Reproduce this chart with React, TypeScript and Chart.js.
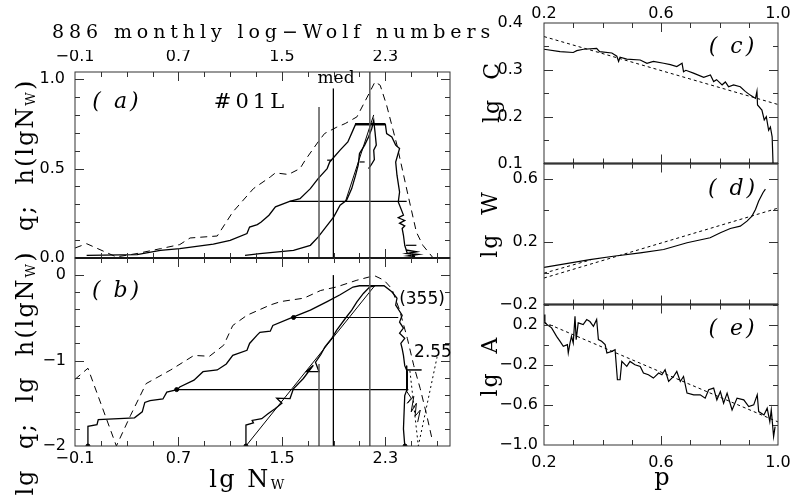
import React, { useEffect, useRef } from 'react';
import { Chart, registerables } from 'chart.js';
Chart.register(...registerables);

const CW = 790, CH = 503;
const SERIF = '"DejaVu Serif", serif';
const SANS = '"DejaVu Sans", sans-serif';

// ---------- tick labels ----------
const leftXTicks = [-0.1, 0.7, 1.5, 2.3];
const rightXTicks = [0.2, 0.6, 1.0];
const aYTicks = [0.0, 0.5, 1.0];
const bYTicks = [-2, -1, 0];
const cYTicks = [0.1, 0.2, 0.3, 0.4];
const dYTicks = [-0.2, 0.2, 0.6];
const eYTicks = [-1.0, -0.6, -0.2, 0.2];

// ---------- vertical marker lines (left panels) ----------
const splitX = [1.787, 1.898, 2.18];
const splitTopA = [0.845, 0.948, 1.04];
const splitTopB = [-1.04, 0.0, 0.2];

// ---------- panel (a) ----------
const aDashX = [-0.1, -0.01, 0.22, 0.38, 0.56, 0.71, 0.79, 1.0, 1.12, 1.28, 1.41, 1.45, 1.55, 1.64, 1.68, 1.78, 1.83, 1.92, 1.99, 2.08, 2.16, 2.22, 2.26, 2.31, 2.39, 2.47, 2.54, 2.59, 2.67];
const aDashY = [0.056, 0.08, 0.006, 0.025, 0.052, 0.075, 0.112, 0.123, 0.257, 0.388, 0.453, 0.476, 0.467, 0.5, 0.547, 0.649, 0.696, 0.73, 0.752, 0.789, 0.9, 0.985, 0.966, 0.854, 0.631, 0.369, 0.145, 0.071, 0.0];
const aOutX = [-0.01, 0.38, 0.56, 0.71, 0.97, 1.1, 1.23, 1.25, 1.31, 1.34, 1.4, 1.45, 1.56, 1.64, 1.72, 1.78, 1.85, 1.87, 1.95, 2.01, 2.05, 2.07, 2.3, 2.31, 2.35, 2.38, 2.41, 2.38, 2.39, 2.41, 2.4, 2.44, 2.4, 2.45, 2.41, 2.45, 2.43, 2.44, 2.45, 2.47];
const aOutY = [0.015, 0.019, 0.043, 0.052, 0.077, 0.099, 0.137, 0.173, 0.187, 0.201, 0.239, 0.286, 0.317, 0.332, 0.388, 0.444, 0.5, 0.537, 0.603, 0.649, 0.715, 0.748, 0.748, 0.696, 0.677, 0.631, 0.612, 0.537, 0.463, 0.369, 0.313, 0.24, 0.225, 0.21, 0.195, 0.18, 0.165, 0.127, 0.071, 0.025];
const aInX = [1.215, 1.33, 1.59, 1.72, 1.78, 1.85, 1.9, 1.95, 2.0, 2.04, 2.07, 2.09, 2.1, 2.14, 2.17, 2.195, 2.21, 2.22, 2.23, 2.21, 2.215, 2.19, 2.17];
const aInY = [0.015, 0.025, 0.043, 0.071, 0.117, 0.183, 0.229, 0.295, 0.323, 0.388, 0.463, 0.519, 0.584, 0.631, 0.677, 0.724, 0.77, 0.705, 0.631, 0.603, 0.55, 0.52, 0.5];
const aFitX = [1.99, 2.21];
const aFitY = [0.313, 0.8];
const aLevelY = [0.317, 0.748];
const aLevelX0 = [1.56, 2.066];
const aLevelX1 = [2.465, 2.297];
const aMarkY = [0.547, 0.537, 0.071];
const aMarkX0 = [1.85, 2.1, 2.46];
const aMarkX1 = [1.885, 2.14, 2.54];
const aZigX = [2.46, 2.54, 2.47, 2.55, 2.48, 2.53];
const aZigY = [0.045, 0.035, 0.025, 0.02, 0.012, 0.008];

// ---------- panel (b) ----------
const bDashX = [-0.1, 0.0, 0.22, 0.33, 0.45, 0.64, 0.82, 0.94, 1.05, 1.12, 1.23, 1.41, 1.49, 1.67, 1.8, 1.92, 2.08, 2.18, 2.22, 2.29, 2.35, 2.41, 2.47, 2.52, 2.57, 2.62, 2.66];
const bDashY = [-1.22, -1.09, -2.0, -1.64, -1.27, -1.11, -0.94, -0.95, -0.82, -0.59, -0.47, -0.35, -0.31, -0.27, -0.18, -0.14, -0.06, -0.02, -0.01, -0.06, -0.16, -0.41, -0.74, -1.06, -1.33, -1.64, -1.91];
const bOutX = [0.0, 0.0, 0.07, 0.08, 0.36, 0.42, 0.44, 0.48, 0.58, 0.61, 0.69, 0.71, 0.82, 0.89, 1.0, 1.07, 1.12, 1.23, 1.25, 1.31, 1.33, 1.41, 1.43, 1.59, 1.72, 1.85, 1.95, 2.05, 2.1, 2.29, 2.35, 2.39, 2.38, 2.43, 2.41, 2.44, 2.41, 2.45, 2.42, 2.43, 2.44, 2.45, 2.47, 2.47, 2.45, 2.44, 2.45];
const bOutY = [-2.0, -1.77, -1.75, -1.69, -1.67, -1.6, -1.49, -1.47, -1.45, -1.37, -1.34, -1.31, -1.23, -1.13, -1.11, -1.04, -0.94, -0.88, -0.8, -0.7, -0.67, -0.656, -0.59, -0.49, -0.41, -0.31, -0.23, -0.14, -0.125, -0.125, -0.195, -0.27, -0.35, -0.47, -0.55, -0.62, -0.68, -0.74, -0.8, -0.86, -0.94, -1.06, -1.13, -1.33, -1.41, -1.8, -1.99];
const bInX = [1.222, 1.222, 1.28, 1.27, 1.344, 1.395, 1.447, 1.5, 1.46, 1.563, 1.589, 1.666, 1.743, 1.69, 1.787, 1.76, 1.8, 1.833, 1.885, 1.924, 1.99, 2.04, 2.08, 2.13, 2.18, 2.22];
const bInY = [-2.0, -1.755, -1.73, -1.7, -1.68, -1.62, -1.563, -1.5, -1.44, -1.445, -1.33, -1.21, -1.055, -1.13, -1.13, -1.02, -0.93, -0.84, -0.742, -0.645, -0.508, -0.41, -0.313, -0.215, -0.137, -0.125];
const bFitX = [1.222, 2.22];
const bFitY = [-2.0, -0.12];
const bLevelY = [-1.34, -0.496];
const bLevelX0 = [0.686, 1.59];
const bLevelX1 = [2.478, 2.4];
const bZigX = [2.465, 2.465, 2.58, 2.465, 2.465, 2.5, 2.47, 2.52, 2.5, 2.54, 2.53, 2.57, 2.55];
const bZigY = [-1.06, -1.11, -1.11, -1.11, -1.36, -1.44, -1.5, -1.42, -1.6, -1.5, -1.65, -1.58, -1.72];
const bVeeX = [2.49, 2.555, 2.7];
const bVeeY = [-1.12, -2.0, -0.96];
const bDotX = [0.0, 1.222, 2.452, 0.686, 1.59];
const bDotY = [-2.0, -2.0, -2.0, -1.34, -0.496];

// ---------- panel (c) ----------
const cX = [0.2, 0.255, 0.3, 0.312, 0.335, 0.38, 0.39, 0.432, 0.449, 0.455, 0.46, 0.483, 0.529, 0.552, 0.574, 0.609, 0.632, 0.654, 0.672, 0.677, 0.685, 0.711, 0.746, 0.769, 0.78, 0.79, 0.809, 0.82, 0.831, 0.848, 0.871, 0.888, 0.905, 0.923, 0.928, 0.93, 0.945, 0.953, 0.96, 0.968, 0.974, 0.98, 0.983];
const cY = [0.344, 0.339, 0.337, 0.341, 0.344, 0.346, 0.339, 0.336, 0.329, 0.318, 0.327, 0.323, 0.321, 0.314, 0.318, 0.314, 0.311, 0.307, 0.314, 0.296, 0.299, 0.293, 0.284, 0.289, 0.275, 0.279, 0.268, 0.274, 0.264, 0.268, 0.264, 0.254, 0.246, 0.239, 0.254, 0.225, 0.214, 0.193, 0.2, 0.171, 0.178, 0.157, 0.1];
const cFitX = [0.2, 1.0];
const cFitY = [0.371, 0.226];

// ---------- panel (d) ----------
const dX = [0.2, 0.357, 0.437, 0.529, 0.609, 0.689, 0.768, 0.803, 0.837, 0.871, 0.894, 0.911, 0.923, 0.934, 0.949, 0.957];
const dY = [0.037, 0.087, 0.108, 0.13, 0.151, 0.194, 0.226, 0.258, 0.285, 0.3, 0.332, 0.364, 0.407, 0.46, 0.515, 0.536];
const dFitX = [0.2, 1.0];
const dFitY = [-0.031, 0.415];
const dFit2X = [0.2, 0.36];
const dFit2Y = [0.0, 0.085];

// ---------- panel (e) ----------
const eX = [0.2, 0.203, 0.226, 0.243, 0.255, 0.266, 0.28, 0.283, 0.289, 0.294, 0.3, 0.306, 0.31, 0.317, 0.334, 0.346, 0.357, 0.369, 0.38, 0.386, 0.397, 0.409, 0.415, 0.432, 0.443, 0.451, 0.46, 0.466, 0.483, 0.494, 0.511, 0.529, 0.54, 0.557, 0.574, 0.592, 0.603, 0.614, 0.626, 0.643, 0.654, 0.666, 0.677, 0.689, 0.712, 0.734, 0.751, 0.763, 0.78, 0.791, 0.803, 0.814, 0.826, 0.843, 0.86, 0.883, 0.9, 0.917, 0.929, 0.934, 0.952, 0.963, 0.972, 0.977, 0.985, 0.99];
const eY = [0.3, 0.217, 0.167, 0.083, 0.033, -0.017, 0.0, -0.083, 0.017, 0.083, 0.017, 0.283, 0.05, 0.217, 0.2, 0.25, 0.23, 0.183, 0.25, 0.05, 0.033, 0.0, -0.083, -0.067, -0.05, -0.35, -0.35, -0.167, -0.217, -0.167, -0.2, -0.217, -0.283, -0.3, -0.333, -0.283, -0.3, -0.25, -0.367, -0.317, -0.267, -0.367, -0.317, -0.483, -0.5, -0.5, -0.533, -0.45, -0.433, -0.55, -0.467, -0.583, -0.483, -0.65, -0.533, -0.55, -0.617, -0.6, -0.5, -0.667, -0.7, -0.633, -0.767, -0.65, -0.917, -0.817];
const eFitX = [0.2, 1.0];
const eFitY = [0.223, -0.77];

// ---------- helpers ----------
const zip = (xs: number[], ys: number[]) => xs.map((x, i) => ({ x, y: ys[i] }));
function line(xs: number[], ys: number[], opts: any = {}) {
  return { data: zip(xs, ys), showLine: true, pointRadius: 0, borderColor: '#000', borderWidth: 1.2, fill: false, tension: 0, ...opts };
}
const DASH = { borderDash: [7, 5], borderWidth: 1 };
const DOT = { borderDash: [3, 3], borderWidth: 1 };

function fmtNum(v: number, d: number) {
  const s = Math.abs(v).toFixed(d);
  return (v < -1e-9 ? '\u2212' : '') + s;
}
function tickGrid(major: number[], step: number, lo: number, hi: number) {
  const out: number[] = [];
  const s = major[0];
  const n0 = Math.ceil((lo - s) / step - 1e-6);
  const n1 = Math.floor((hi - s) / step + 1e-6);
  for (let k = n0; k <= n1; k++) out.push(+(s + k * step).toFixed(6));
  return out;
}

interface PanelCfg {
  area: [number, number, number, number];
  xr: [number, number]; yr: [number, number];
  xPos: 'top' | 'bottom' | null;
  xTicks: number[]; xStep: number; xDec: number; xPad: number;
  yTicks: number[]; yStep: number; yDec: number; yPad: number;
  thickBottom: boolean;
  datasets: any[];
}

const Y_W = 60;  // room reserved for y tick labels
const X_H = 22;  // room reserved for x tick labels

function framePlugin(cfg: PanelCfg) {
  return {
    id: 'frame',
    afterDraw(chart: any) {
      const ctx = chart.ctx as CanvasRenderingContext2D;
      const { left, right, top, bottom } = chart.chartArea;
      const sx = chart.scales.x, sy = chart.scales.y;
      const isMajor = (arr: number[], v: number) => arr.some((m) => Math.abs(m - v) < 1e-6);
      ctx.save();
      ctx.strokeStyle = '#333';
      ctx.lineWidth = 1;
      ctx.beginPath();
      for (const v of tickGrid(cfg.xTicks, cfg.xStep, cfg.xr[0], cfg.xr[1])) {
        const p = Math.round(sx.getPixelForValue(v)) + 0.5;
        if (p < left + 1 || p > right - 1) continue;
        const L = isMajor(cfg.xTicks, v) ? 9 : 5;
        ctx.moveTo(p, bottom); ctx.lineTo(p, bottom - L);
        ctx.moveTo(p, top); ctx.lineTo(p, top + L);
      }
      for (const v of tickGrid(cfg.yTicks, cfg.yStep, cfg.yr[0], cfg.yr[1])) {
        const p = Math.round(sy.getPixelForValue(v)) + 0.5;
        if (p < top + 1 || p > bottom - 1) continue;
        const L = isMajor(cfg.yTicks, v) ? 9 : 5;
        ctx.moveTo(left, p); ctx.lineTo(left + L, p);
        ctx.moveTo(right, p); ctx.lineTo(right - L, p);
      }
      ctx.stroke();
      ctx.strokeRect(left, top, right - left, bottom - top);
      if (cfg.thickBottom) {
        ctx.lineWidth = 2;
        ctx.strokeStyle = '#000';
        ctx.beginPath();
        ctx.moveTo(left, bottom); ctx.lineTo(right, bottom);
        ctx.stroke();
      }
      ctx.restore();
    },
  };
}

function makeConfig(cfg: PanelCfg): any {
  const [L, T, R, B] = cfg.area;
  const tickFont = { family: SANS, size: 16 };
  const xH = cfg.xPos ? X_H : 0;
  return {
    type: 'scatter',
    data: { datasets: cfg.datasets },
    options: {
      animation: false,
      responsive: false,
      events: [],
      layout: {
        padding: {
          left: L - Y_W,
          top: cfg.xPos === 'top' ? T - xH : T,
          right: CW - R,
          bottom: cfg.xPos === 'bottom' ? CH - B - xH : CH - B,
        },
        autoPadding: false,
      },
      plugins: { legend: { display: false }, tooltip: { enabled: false }, title: { display: false } },
      scales: {
        x: {
          type: 'linear', position: cfg.xPos ?? 'bottom', min: cfg.xr[0], max: cfg.xr[1],
          afterBuildTicks: (s: any) => { s.ticks = cfg.xTicks.map((v) => ({ value: v })); },
          afterFit: (s: any) => { s.height = xH; s.paddingLeft = 0; s.paddingRight = 0; s.paddingTop = 0; s.paddingBottom = 0; },
          ticks: { display: cfg.xPos !== null, padding: cfg.xPad, autoSkip: false, maxRotation: 0, minRotation: 0, color: '#000', font: tickFont, callback: (v: number) => fmtNum(v, cfg.xDec) },
          grid: { display: false, drawTicks: false },
          border: { display: false },
        },
        y: {
          type: 'linear', position: 'left', min: cfg.yr[0], max: cfg.yr[1],
          afterBuildTicks: (s: any) => { s.ticks = cfg.yTicks.map((v) => ({ value: v })); },
          afterFit: (s: any) => { s.width = Y_W; s.paddingLeft = 0; s.paddingRight = 0; s.paddingTop = 0; s.paddingBottom = 0; },
          ticks: { display: true, padding: cfg.yPad, autoSkip: false, color: '#000', font: tickFont, callback: (v: number) => fmtNum(v, cfg.yDec) },
          grid: { display: false, drawTicks: false },
          border: { display: false },
        },
      },
    },
    plugins: [framePlugin(cfg)],
  };
}

function splitLines(tops: number[], bottom: number) {
  return splitX.map((x, i) => line([x, x], [bottom, tops[i]], i === 1 ? { borderWidth: 1.3 } : { borderColor: '#555', borderWidth: 1.5 }));
}
function levels(x0: number[], x1: number[], ys: number[], widths: number[]) {
  return ys.map((y, i) => line([x0[i], x1[i]], [y, y], { borderWidth: widths[i] }));
}

const panels: PanelCfg[] = [
  {
    area: [75, 72, 450, 258], xr: [-0.1, 2.8], yr: [0, 1.04], xPos: 'top',
    xTicks: leftXTicks, xStep: 0.2, xDec: 1, xPad: 6,
    yTicks: aYTicks, yStep: 0.1, yDec: 1, yPad: 10, thickBottom: true,
    datasets: [
      ...splitLines(splitTopA, 0),
      line(aDashX, aDashY, DASH),
      line(aOutX, aOutY, { borderWidth: 1.3 }),
      line(aInX, aInY, { borderWidth: 1.3 }),
      line(aFitX, aFitY, { borderWidth: 1 }),
      ...levels(aLevelX0, aLevelX1, aLevelY, [1.2, 2.5]),
      ...levels(aMarkX0, aMarkX1, aMarkY, [1.2, 1.2, 1.2]),
      line(aZigX, aZigY, { borderWidth: 1.5 }),
    ],
  },
  {
    area: [75, 258, 450, 446], xr: [-0.1, 2.8], yr: [-2, 0.2], xPos: 'bottom',
    xTicks: leftXTicks, xStep: 0.2, xDec: 1, xPad: 3,
    yTicks: bYTicks, yStep: 0.2, yDec: 0, yPad: 9, thickBottom: false,
    datasets: [
      ...splitLines(splitTopB, -2),
      line(bDashX, bDashY, DASH),
      line(bOutX, bOutY, { borderWidth: 1.3 }),
      line(bInX, bInY, { borderWidth: 1.3 }),
      line(bFitX, bFitY, { borderWidth: 1 }),
      ...levels(bLevelX0, bLevelX1, bLevelY, [1.2, 1.2]),
      line(bZigX, bZigY, { borderWidth: 1 }),
      line(bVeeX, bVeeY, { borderDash: [2, 3], borderWidth: 1 }),
      { data: zip(bDotX, bDotY), showLine: false, pointRadius: 2, backgroundColor: '#000', borderColor: '#000' },
    ],
  },
  {
    area: [544, 23, 778, 163.5], xr: [0.2, 1.0], yr: [0.1, 0.4], xPos: 'top',
    xTicks: rightXTicks, xStep: 0.1, xDec: 1, xPad: 0,
    yTicks: cYTicks, yStep: 0.05, yDec: 1, yPad: 21, thickBottom: true,
    datasets: [line(cFitX, cFitY, DOT), line(cX, cY, { borderWidth: 1.2 })],
  },
  {
    area: [544, 163.5, 778, 304.5], xr: [0.2, 1.0], yr: [-0.2, 0.7], xPos: null,
    xTicks: rightXTicks, xStep: 0.1, xDec: 1, xPad: 0,
    yTicks: dYTicks, yStep: 0.2, yDec: 1, yPad: 6, thickBottom: true,
    datasets: [line(dFitX, dFitY, DOT), line(dFit2X, dFit2Y, DOT), line(dX, dY, { borderWidth: 1.2 })],
  },
  {
    area: [544, 304.5, 778, 445], xr: [0.2, 1.0], yr: [-1.0, 0.4], xPos: 'bottom',
    xTicks: rightXTicks, xStep: 0.1, xDec: 1, xPad: 8,
    yTicks: eYTicks, yStep: 0.2, yDec: 1, yPad: 6, thickBottom: false,
    datasets: [line(eFitX, eFitY, DOT), line(eX, eY, { borderWidth: 1.2 })],
  },
];

function Panel({ cfg }: { cfg: PanelCfg }) {
  const ref = useRef<HTMLCanvasElement>(null);
  useEffect(() => {
    const chart = new Chart(ref.current as HTMLCanvasElement, makeConfig(cfg));
    return () => chart.destroy();
  }, [cfg]);
  return <canvas ref={ref} width={CW} height={CH} style={{ position: 'absolute', left: 0, top: 0, width: CW, height: CH }} />;
}

function T(props: { x: number; y: number; rot?: number; size: number; family?: string; italic?: boolean; ls?: number; left?: boolean; children: any }) {
  const { x, y, rot = 0, size, family = SERIF, italic = false, ls = 0, left = false, children } = props;
  return (
    <div style={{ position: 'absolute', left: x, top: y, transform: `translate(${left ? '0' : '-50%'}, -50%) rotate(${rot}deg)`, fontFamily: family, fontSize: size, fontStyle: italic ? 'italic' : 'normal', letterSpacing: ls, whiteSpace: 'pre', lineHeight: 1, color: '#000' }}>
      {children}
    </div>
  );
}
const Sub = ({ children }: { children: any }) => <span style={{ fontSize: '0.55em', position: 'relative', top: '0.15em' }}>{children}</span>;

export default function App() {
  useEffect(() => { document.body.style.margin = '0'; }, []);
  return (
    <div style={{ position: 'relative', width: CW, height: CH, background: '#fff', overflow: 'hidden' }}>
      {panels.map((p, i) => <Panel key={i} cfg={p} />)}
      <T x={52} y={31} size={19} ls={4.9} left>886 monthly log−Wolf numbers</T>
      <T x={117} y={101} size={22} italic ls={3}>( a)</T>
      <T x={251} y={101} size={21} ls={4}>#01L</T>
      <T x={117} y={290} size={22} italic ls={3}>( b)</T>
      <T x={733} y={46} size={22} italic ls={3}>( c)</T>
      <T x={733} y={188} size={22} italic ls={3}>( d)</T>
      <T x={733} y={328} size={22} italic ls={3}>( e)</T>
      <T x={336} y={77} size={17}>med</T>
      <T x={422} y={298} size={17} family={SANS}>(355)</T>
      <T x={433} y={351} size={17} family={SANS}>2.55</T>
      <T x={248} y={479} size={24} ls={2.5}>lg N<Sub>W</Sub></T>
      <T x={662} y={477} size={24}>p</T>
      <T x={25} y={155} size={24} rot={-90} ls={2}>q;  h(lgN<Sub>W</Sub>)</T>
      <T x={25} y={373} size={24} rot={-90} ls={2}>lg  q;  lg  h(lgN<Sub>W</Sub>)</T>
      <T x={492} y={92} size={22} rot={-90} ls={2}>lg  C</T>
      <T x={490} y={224} size={22} rot={-90} ls={2}>lg  W</T>
      <T x={490} y={366} size={22} rot={-90} ls={2}>lg  A</T>
    </div>
  );
}
